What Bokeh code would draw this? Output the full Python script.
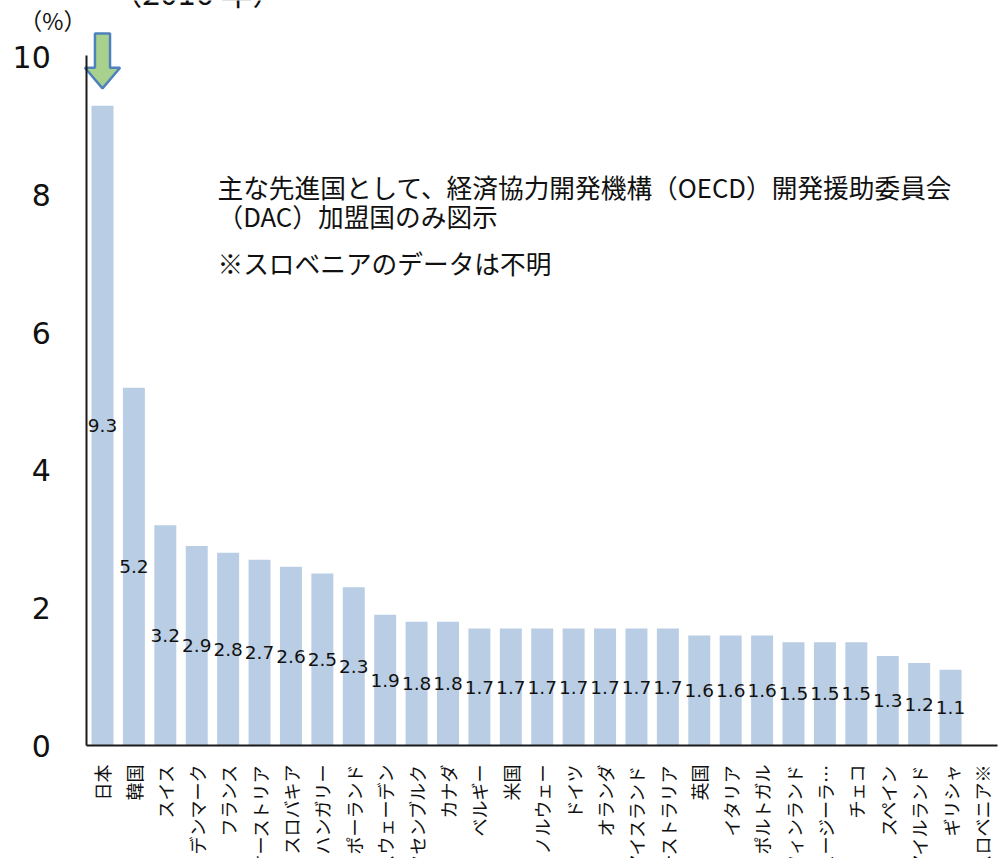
import math
from bokeh.plotting import figure
from bokeh.models import ColumnDataSource, Range1d, FixedTicker, Label
from bokeh.core.properties import value
from bokeh.embed import file_html
from bokeh.resources import INLINE

countries = ["日本", "韓国", "スイス", "デンマーク", "フランス", "オーストリア", "スロバキア",
             "ハンガリー", "ポーランド", "スウェーデン", "ルクセンブルク", "カナダ", "ベルギー",
             "米国", "ノルウェー", "ドイツ", "オランダ", "アイスランド", "オーストラリア", "英国",
             "イタリア", "ポルトガル", "フィンランド", "ニュージーラ…", "チェコ", "スペイン",
             "アイルランド", "ギリシャ", "スロベニア※"]
values = [9.3, 5.2, 3.2, 2.9, 2.8, 2.7, 2.6, 2.5, 2.3, 1.9, 1.8, 1.8, 1.7, 1.7, 1.7, 1.7,
          1.7, 1.7, 1.7, 1.6, 1.6, 1.6, 1.5, 1.5, 1.5, 1.3, 1.2, 1.1, None]
y_ticks = [0, 2, 4, 6, 8, 10]
unit_text = "（%）"
title_text = "（2016 年）"
note_lines = ["主な先進国として、経済協力開発機構（OECD）開発援助委員会",
              "（DAC）加盟国のみ図示",
              "※スロベニアのデータは不明"]

JP = "Noto Sans CJK JP"
NUM = "DejaVu Sans"
INK = "#111111"

idx = list(range(len(countries)))
bar_x = [i for i, v in zip(idx, values) if v is not None]
bar_v = [v for v in values if v is not None]
bars = ColumnDataSource(dict(x=bar_x, top=bar_v, mid=[v / 2 for v in bar_v],
                             label=[f"{v:.1f}" for v in bar_v]))

p = figure(x_range=Range1d(-3.247, 28.59), y_range=Range1d(-1.642, 10.828),
           width=1000, height=858, output_backend="svg", toolbar_location=None,
           title=None, min_border_left=0, min_border_right=0,
           min_border_top=0, min_border_bottom=0)

p.outline_line_color = None
p.xgrid.visible = False
p.ygrid.visible = False

p.vbar(x="x", top="top", width=0.7, source=bars, fill_color="#b9cee4", line_color=None)

p.text(x="x", y="mid", text="label", source=bars, text_align="center",
       text_baseline="middle", text_font=value(NUM), text_font_size="18.5px",
       text_color=INK)

# category axis drawn at y = 0
xa = p.xaxis[0]
xa.fixed_location = 0
xa.bounds = (-0.5, len(countries) - 0.5)
xa.ticker = FixedTicker(ticks=idx)
xa.major_label_overrides = {i: c for i, c in zip(idx, countries)}
xa.major_label_orientation = math.pi / 2
xa.major_tick_line_color = None
xa.minor_tick_line_color = None
xa.axis_line_color = "#1a1a1a"
xa.axis_line_width = 2
xa.major_label_text_font = JP
xa.major_label_text_font_size = "18px"
xa.major_label_text_color = INK
xa.major_label_standoff = 13

ya = p.yaxis[0]
ya.fixed_location = -0.5
ya.ticker = FixedTicker(ticks=y_ticks)
ya.bounds = (0, 10.03)
ya.major_tick_line_color = None
ya.minor_tick_line_color = None
ya.axis_line_color = "#1a1a1a"
ya.axis_line_width = 2
ya.major_label_text_font = NUM
ya.major_label_text_font_size = "30px"
ya.major_label_text_color = INK
ya.major_label_standoff = 30

# green arrow pointing at Japan's bar
cx = idx[0]
top = values[0]
sh, hh = 0.24, 0.56
tail, neck, tip = top + 1.05, top + 0.55, top + 0.25
p.patch([cx - sh, cx + sh, cx + sh, cx + hh, cx, cx - hh, cx - sh],
        [tail, tail, neck, neck, tip, neck, neck],
        fill_color="#a9d18e", line_color="#4f81bd", line_width=2.5)

p.add_layout(Label(x=-1.58, y=10.54, text=unit_text, text_align="center",
                   text_baseline="middle", text_font=JP, text_font_size="23px",
                   text_color=INK))
p.add_layout(Label(x=0.25, y=10.625, text=title_text, text_align="left",
                   text_baseline="bottom", text_font=JP, text_font_size="32px",
                   text_color=INK))

for line, yv in zip(note_lines, [8.125, 7.70, 7.02]):
    p.add_layout(Label(x=3.66, y=yv, text=line, text_align="left",
                       text_baseline="middle", text_font=JP,
                       text_font_size="25.7px", text_color=INK))

open("out.html", "w").write(file_html(p, INLINE))
